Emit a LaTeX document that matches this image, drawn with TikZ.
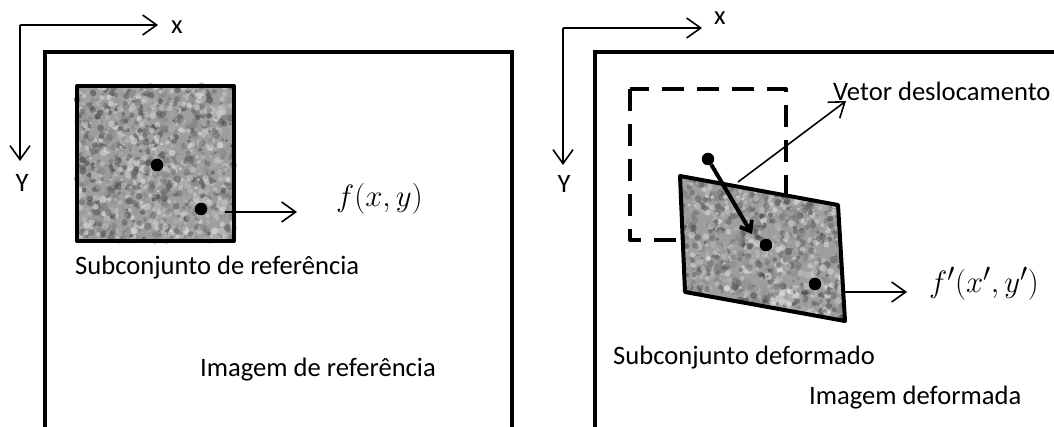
\documentclass[tikz,border=0pt]{standalone}
\usepackage{fontspec}
\setmainfont{Carlito}
\usetikzlibrary{arrows.meta}
\tikzset{
  frame/.style={line width=4pt},
  subset/.style={line width=4pt,line join=round},
  axis/.style={line width=1.6pt,-{Straight Barb[length=14pt,width=20pt]}},
  pointer/.style={line width=1.6pt,-{Straight Barb[length=14pt,width=20pt]}},
  shift vec/.style={line width=4pt,-{Straight Barb[length=9pt,width=14pt]}},
  dot/.style={circle,fill,inner sep=0pt,minimum size=12.5pt},
  lbl/.style={inner sep=0pt,anchor=west,font=\fontsize{26.6}{30}\selectfont},
  eq/.style={inner sep=0pt,anchor=west,font=\fontsize{24.88}{30}\selectfont}
}
\newcommand{\speckle}[4]{%
  \fill[black!38] (#1,#2) rectangle ++(#3,#4);
  \foreach \k in {1,...,1500}{
    \pgfmathsetmacro{\sx}{#1+rnd*#3}
    \pgfmathsetmacro{\sy}{#2+rnd*#4}
    \pgfmathtruncatemacro{\sg}{8+rnd*67}
    \pgfmathsetmacro{\sr}{1.4+rnd*2.4}
    \fill[black!\sg,opacity=0.55] (\sx,\sy) circle (\sr pt);
  }}

\begin{document}
\begin{tikzpicture}[x=1pt,y=-1pt]
      \clip (0,0) rectangle (1054,427);
      \pgfmathsetseed{7}

      \coordinate (o1) at (20,25);
      \coordinate (x1) at (158,25);
      \coordinate (y1) at (20,161);
      \draw[axis] (o1) -- (x1);
      \draw[axis] (o1) -- (y1);
      \draw (177,27) node [lbl,anchor=center] (xl1) {x};
      \draw (22,183) node [lbl,anchor=center] (yl1) {Y};
      \draw[frame] (45,440) |- (512,52) -- (512,440);

      \speckle{77}{86}{157}{155}
      \draw[subset] (77,86) rectangle (234,241);
      \draw (157,165) node [dot] (c1) {};
      \draw (201,209) node [dot] (p1) {};
      \coordinate (a1) at (225,212);
      \coordinate (b1) at (297,212);
      \draw[pointer] (a1) -- (b1);
      \draw (336,199) node [eq] (f1) {\scalebox{1.24}{$f(x,y)$}};
      \draw (75,268) node [lbl] (sub1) {Subconjunto de referência};
      \draw (200,370) node [lbl] (img1) {Imagem de referência};

      \coordinate (o2) at (563,28);
      \coordinate (x2) at (702,28);
      \coordinate (y2) at (563,165);
      \draw[axis] (o2) -- (x2);
      \draw[axis] (o2) -- (y2);
      \draw (720,18) node [lbl,anchor=center] (xl2) {x};
      \draw (564,184) node [lbl,anchor=center] (yl2) {Y};
      \draw[frame] (595,440) |- (1070,52);

      \draw[subset,dash pattern=on 22pt off 13pt] (630,89) rectangle (786,240);
      \draw (708,159) node [dot] (c0) {};
      \begin{scope}
        \clip (680,176) -- (838,205) -- (845,321) -- (685,292) -- cycle;
        \speckle{678}{174}{170}{150}
      \end{scope}
      \draw[subset] (680,176) -- (838,205) -- (845,321) -- (685,292) -- cycle;
      \draw (766,245) node [dot] (c2) {};
      \draw (815,284) node [dot] (p2) {};
      \coordinate (v2) at (752,234);
      \draw[shift vec] (c0) -- (v2);
      \coordinate (a3) at (738,182);
      \coordinate (b3) at (846,101);
      \draw[pointer] (a3) -- (b3);
      \draw (833,91) node [lbl] (vec) {Vetor deslocamento};
      \coordinate (a2) at (845,292);
      \coordinate (b2) at (907,292);
      \draw[pointer] (a2) -- (b2);
      \draw (929,284) node [eq] (f2) {\scalebox{1.24}{$f'(x',y')$}};
      \draw (613,358) node [lbl] (sub2) {Subconjunto deformado};
      \draw (809,398) node [lbl] (img2) {Imagem deformada};
    \end{tikzpicture}
\end{document}
